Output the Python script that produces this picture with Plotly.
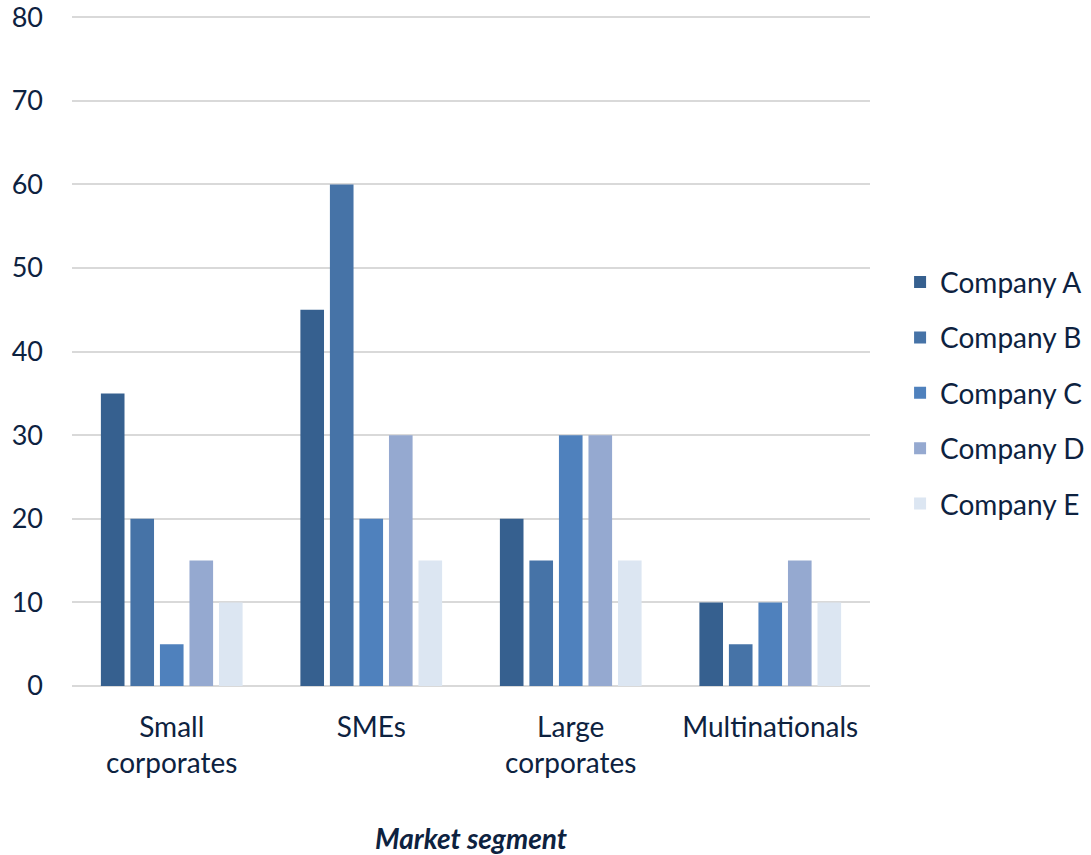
import plotly.graph_objects as go

categories = ["Small<br>corporates", "SMEs", "Large<br>corporates", "Multinationals"]
series_names = ["Company A", "Company B", "Company C", "Company D", "Company E"]
company_a = [35, 45, 20, 10]
company_b = [20, 60, 15, 5]
company_c = [5, 20, 30, 10]
company_d = [15, 30, 30, 15]
company_e = [10, 15, 15, 10]
colors = ["#36608f", "#4673a7", "#4f81bd", "#95a9d0", "#dce6f2"]
y_ticks = [0, 10, 20, 30, 40, 50, 60, 70, 80]

values = [company_a, company_b, company_c, company_d, company_e]
txt = "#0d2240"
font_family = "Lato, Open Sans, sans-serif"

fig = go.Figure()
for name, vals, col in zip(series_names, values, colors):
    fig.add_trace(go.Bar(x=categories, y=vals, name=name, marker_color=col,
                         marker_line_width=0, legendgroup=name))

fig.update_layout(
    width=1091, height=855,
    barmode="group", bargap=0.26, bargroupgap=0.2,
    plot_bgcolor="white", paper_bgcolor="white",
    margin=dict(l=72, r=221, t=16, b=169),
    font=dict(family=font_family, color=txt, size=28),
    legend=dict(xref="container", yref="container", x=0.825, y=0.5406,
                yanchor="middle", xanchor="left",
                font=dict(size=28, color=txt), tracegroupgap=16,
                itemwidth=30, bgcolor="rgba(0,0,0,0)"),
    xaxis=dict(
        title=dict(text="<b><i>Market segment</i></b>", font=dict(size=28, color=txt), standoff=50),
        showgrid=False, showline=False, ticks="", tickfont=dict(size=28, color=txt),
        ticklabelstandoff=22, automargin=False,
    ),
    yaxis=dict(
        range=[0, 80.15], tickvals=y_ticks, showgrid=True, gridcolor="#d9d9d9", gridwidth=2,
        zeroline=True, zerolinecolor="#d9d9d9", zerolinewidth=2,
        showline=False, ticks="", tickfont=dict(size=27, color=txt), ticklabelstandoff=28,
        ticklabeloverflow="allow", automargin=False,
    ),
)

fig.write_html("out.html", config={"displayModeBar": False},
               post_script="document.body.style.margin='0px';")
